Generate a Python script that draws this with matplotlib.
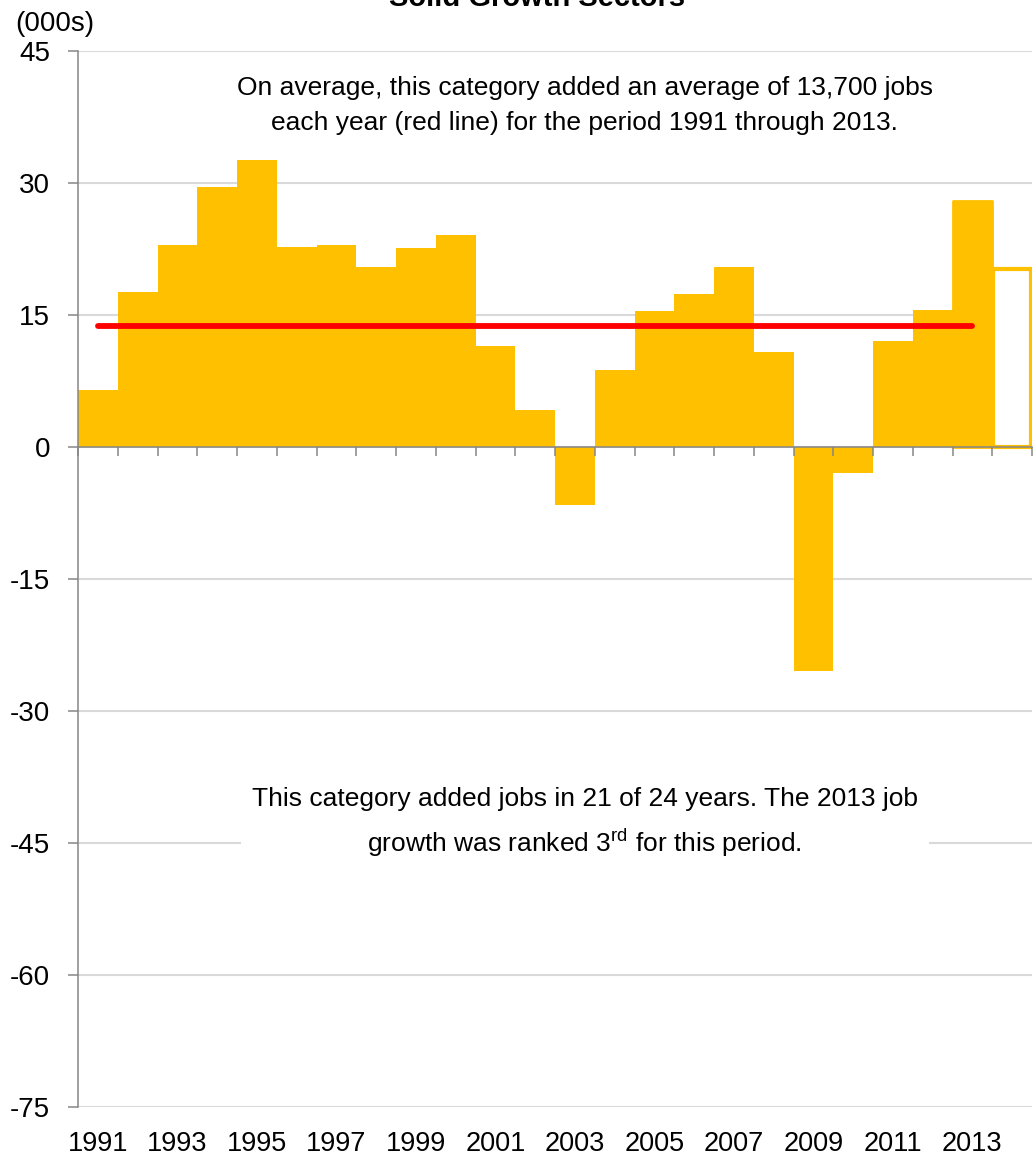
import numpy as np
import matplotlib
matplotlib.use("Agg")
import matplotlib.pyplot as plt
from matplotlib.ticker import FixedLocator, NullFormatter

plt.rcParams["font.family"] = ["Liberation Sans Narrow", "Liberation Sans", "DejaVu Sans"]
plt.rcParams["mathtext.fontset"] = "custom"
plt.rcParams["mathtext.rm"] = "Liberation Sans"
plt.rcParams["axes.unicode_minus"] = False

# ----------------------------------------------------------------------
# Данные (тыс. рабочих мест, прирост за год)
# ----------------------------------------------------------------------
years = list(range(1991, 2015))
job_change = [6.5, 17.6, 22.9, 29.5, 32.6, 22.7, 22.9, 20.4, 22.6, 24.1,
              11.5, 4.2, -6.6, 8.7, 15.5, 17.4, 20.5, 10.8, -25.5, -2.9,
              12.0, 15.6, 27.9, 20.2]
avg_change = 13.7
avg_start, avg_end = 1991, 2013
y_ticks = [-75, -60, -45, -30, -15, 0, 15, 30, 45]

title = "Solid Growth Sectors"
note_top = ("On average, this category added an average of 13,700 jobs\n"
            "each year (red line) for the period 1991 through 2013.")
note_bottom = ("This category added jobs in 21 of 24 years. The 2013 job\n"
               "growth was ranked 3$^{\\mathrm{rd}}$ for this period.")

GOLD = "#FFC000"
GRAY = "#868686"
GRID = "#D9D9D9"

x = np.arange(len(years))

fig = plt.figure(figsize=(10.35, 11.61), dpi=100)
ax = fig.add_axes([78 / 1035, 54 / 1161, 954 / 1035, 1056 / 1161])

# сетка вручную, чтобы риски оси лежали поверх столбцов
for yt in y_ticks:
    ax.axhline(yt, color=GRID, linewidth=1.5, zorder=0.5)

# столбцы: последний (2014, предварительный) — пустой контур
bars = ax.bar(x[:-1], job_change[:-1], width=1.0, color=GOLD, linewidth=0, zorder=1)
bars[-1].set_edgecolor(GOLD)
bars[-1].set_linewidth(2)
bars[-1].set_joinstyle("round")
ax.bar(x[-1], job_change[-1], width=0.97, facecolor="white", edgecolor=GOLD,
       linewidth=3, zorder=1)

# средняя линия
i0, i1 = years.index(avg_start), years.index(avg_end)
ax.plot([x[i0], x[i1]], [avg_change, avg_change], color="#FF0000", linewidth=4.2,
        solid_capstyle="round", zorder=3)

ax.set_xlim(-0.5, len(years) - 0.5)
ax.set_ylim(y_ticks[0], y_ticks[-1])
ax.set_yticks(y_ticks)

for s in ["top", "right"]:
    ax.spines[s].set_visible(False)
ax.spines["left"].set_color(GRAY)
ax.spines["left"].set_linewidth(1.1)
ax.spines["bottom"].set_position(("data", 0))
ax.spines["bottom"].set_color(GRAY)
ax.spines["bottom"].set_linewidth(1.1)
ax.tick_params(axis="y", colors=GRAY, length=7, width=1.1, pad=13,
               labelsize=20, labelcolor="black")

# риски на границах столбцов на нулевой оси
ax.xaxis.set_major_locator(FixedLocator(np.arange(len(years) + 1) - 0.5))
ax.xaxis.set_major_formatter(NullFormatter())
ax.tick_params(axis="x", direction="out", length=6.5, width=1.1, colors=GRAY)

# подписи лет внизу области графика
lab = ax.secondary_xaxis("bottom")
lab.set_xticks(x[::2])
lab.set_xticklabels([str(y) for y in years[::2]])
lab.tick_params(axis="x", length=0, pad=17, labelsize=19.5, labelcolor="black")
lab.spines["bottom"].set_visible(False)

ax.text(12.25, 38.8, note_top, ha="center", va="center", fontsize=19,
        linespacing=1.6, zorder=4,
        bbox=dict(facecolor="white", edgecolor="none", pad=6))
ax.text(12.25, -42.7, note_bottom, ha="center", va="center", fontsize=19,
        linespacing=1.6, zorder=4,
        bbox=dict(facecolor="white", edgecolor="none", pad=8))

fig.text(15 / 1035, 1 - 24 / 1161, "(000s)", ha="left", va="center", fontsize=20)
fig.text(537 / 1035, 1 - 6 / 1161, title, ha="center", va="baseline",
         fontsize=21, fontweight="bold")

fig.savefig("out.png", dpi=100)
